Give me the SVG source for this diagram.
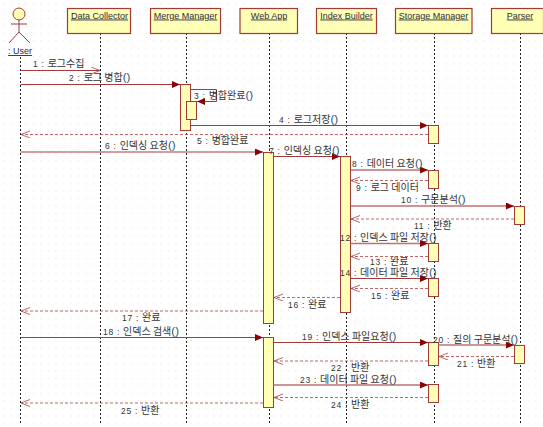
<svg xmlns="http://www.w3.org/2000/svg" width="543" height="427" viewBox="0 0 543 427">
<style>
text{font-family:"Noto Sans CJK KR","Liberation Sans",sans-serif;font-size:10px;fill:#333}
.d{font-family:"Liberation Sans",Arial,sans-serif;font-size:8.5px;letter-spacing:.7px}
.p{font-family:"Liberation Sans",Arial,sans-serif;font-size:11.5px;fill:#2f4f70}
.n{font-family:"Liberation Sans",Arial,sans-serif;font-size:9px;text-anchor:middle;text-decoration:underline;fill:#2c2c3c}
.box{fill:#ffffb5;stroke:#a23a3a;stroke-width:1.2}
.act{fill:#ffffb5;stroke:#a23a3a;stroke-width:1}
.life{stroke:#222;stroke-width:1;stroke-dasharray:2 2;fill:none}
.m{stroke:#a23a3a;stroke-width:1;fill:none;marker-end:url(#solid)}
.t{stroke:#c07070;stroke-width:1.5}
.r{stroke:#b04040;stroke-width:.8;stroke-dasharray:3 2;fill:none;marker-end:url(#open)}
</style>
<defs>
<pattern id="dots" width="7.5" height="7.5" patternUnits="userSpaceOnUse"><rect x="3" y="3" width="1" height="1" fill="#e2e2e2"/></pattern>
<marker id="solid" markerUnits="userSpaceOnUse" markerWidth="9" markerHeight="8" refX="8" refY="3.5" orient="auto"><path d="M0 0L8 3.5L0 7Z" fill="#8b0000"/></marker>
<marker id="open" markerUnits="userSpaceOnUse" markerWidth="10" markerHeight="8" refX="9" refY="3.5" orient="auto"><path d="M0 0L9 3.5L0 7" fill="none" stroke="#b04040" stroke-width=".8"/></marker>
</defs>
<rect width="543" height="427" fill="#fff"/>
<rect width="543" height="427" fill="url(#dots)"/>
<g id="lifelines">
<path class="life" d="M20.5 57V424M100.5 33V424M186.5 33V424M269.5 33V424M346.5 33V424M434.5 33V424M520.5 33V424"/>
</g>
<g id="user">
<circle cx="19" cy="14" r="6" fill="#ffffb5" stroke="#a23a3a"/>
<path d="M19 20V32M11 24H27M19 32L9 43M19 32L30 43" fill="none" stroke="#a23a3a"/>
<text class="n" x="20" y="54">: User</text>
</g>
<g id="data-collector"><rect class="box" x="67.5" y="8.5" width="63" height="25"/><text class="n" x="99.5" y="18.5">Data Collector</text></g>
<g id="merge-manager"><rect class="box" x="150.5" y="8.5" width="70" height="25"/><text class="n" x="185.5" y="18.5">Merge Manager</text></g>
<g id="web-app"><rect class="box" x="240" y="8.5" width="57.5" height="25"/><text class="n" x="269" y="18.5">Web App</text></g>
<g id="index-builder"><rect class="box" x="316.5" y="8.5" width="60" height="25"/><text class="n" x="346.5" y="18.5">Index Builder</text></g>
<g id="storage-manager"><rect class="box" x="395.5" y="8.5" width="76.5" height="25"/><text class="n" x="433.5" y="18.5">Storage Manager</text></g>
<g id="parser"><rect class="box" x="491.5" y="8.5" width="52" height="25"/><text class="n" x="520" y="18.5">Parser</text></g>
<g id="activations">
<rect class="act" x="180.5" y="84.5" width="10" height="46"/>
<rect class="act" x="186.5" y="101.5" width="10" height="18"/>
<rect class="act" x="263.5" y="152.5" width="10" height="171"/>
<rect class="act" x="263.5" y="337.5" width="10" height="70"/>
<rect class="act" x="340.5" y="156.5" width="10" height="156"/>
<rect class="act" x="428.5" y="125.5" width="10" height="18"/>
<rect class="act" x="428.5" y="170.5" width="10" height="18"/>
<rect class="act" x="428.5" y="243.5" width="10" height="18"/>
<rect class="act" x="428.5" y="278.5" width="10" height="18"/>
<rect class="act" x="428.5" y="342.5" width="10" height="23"/>
<rect class="act" x="428.5" y="384.5" width="10" height="18"/>
<rect class="act" x="514.5" y="206.5" width="10" height="18"/>
<rect class="act" x="514.5" y="345.5" width="10" height="18"/>
</g>
<g id="connectors">
<path d="M20.5 70.5H100" fill="none" stroke="#a23a3a" marker-end="url(#open)"/>
<path class="m" d="M20.5 84.5H180"/>
<path class="m" d="M190.5 89.5H216.5V101.5H197"/>
<path class="m" d="M190.5 125.5H428"/>
<path class="r" d="M428 134.5H21"/>
<path class="m" d="M20.5 152H263"/>
<path class="m" d="M273.5 156.5H340"/>
<path class="m t" d="M351 170H428"/>
<path class="r" d="M428 180.5H351"/>
<path class="m t" d="M351 206H514"/>
<path class="r" d="M514 219H351"/>
<path class="m t" d="M351 243.5H428"/>
<path class="r" d="M428 256.5H351"/>
<path class="m" d="M351 278.5H428"/>
<path class="r" d="M428 288.5H351"/>
<path class="r" d="M340 297.5H274"/>
<path class="r" d="M263 311H21"/>
<path class="m" d="M20.5 337.5H263"/>
<path class="m" d="M273.5 342.5H428"/>
<path class="m t" d="M438.5 345H514"/>
<path class="r" d="M514 356.5H439"/>
<path class="r" d="M428 361H274"/>
<path class="m t" d="M273.5 385H428"/>
<path class="r" d="M428 397.5H274"/>
<path class="r" d="M263 403H21"/>
</g>
<g id="labels">
<text x="33" y="67"><tspan class="d">1 : </tspan>로그수집</text>
<text x="69" y="81"><tspan class="d">2 : </tspan>로그 병합<tspan class="p">()</tspan></text>
<text x="194" y="99"><tspan class="d">3 : </tspan>병합완료<tspan class="p">()</tspan></text>
<text x="279" y="123"><tspan class="d">4 : </tspan>로그저장<tspan class="p">()</tspan></text>
<text x="197" y="144"><tspan class="d">5 : </tspan>병합완료</text>
<text x="105" y="149"><tspan class="d">6 : </tspan>인덱싱 요청<tspan class="p">()</tspan></text>
<text x="269" y="154"><tspan class="d">7 : </tspan>인덱싱 요청<tspan class="p">()</tspan></text>
<text x="352" y="167"><tspan class="d">8 : </tspan>데이터 요청<tspan class="p">()</tspan></text>
<text x="356" y="191"><tspan class="d">9 : </tspan>로그 데이터</text>
<text x="401" y="203"><tspan class="d">10 : </tspan>구문분석<tspan class="p">()</tspan></text>
<text x="414" y="229"><tspan class="d">11 : </tspan>반환</text>
<text x="340" y="241"><tspan class="d">12 : </tspan>인덱스 파일 저장<tspan class="p">()</tspan></text>
<text x="370" y="265"><tspan class="d">13 : </tspan>완료</text>
<text x="340" y="276"><tspan class="d">14 : </tspan>데이터 파일 저장<tspan class="p">()</tspan></text>
<text x="371" y="299"><tspan class="d">15 : </tspan>완료</text>
<text x="288" y="308"><tspan class="d">16 : </tspan>완료</text>
<text x="122" y="321"><tspan class="d">17 : </tspan>완료</text>
<text x="103" y="335"><tspan class="d">18 : </tspan>인덱스 검색<tspan class="p">()</tspan></text>
<text x="302" y="340"><tspan class="d">19 : </tspan>인덱스 파일요청<tspan class="p">()</tspan></text>
<text x="433" y="343"><tspan class="d">20 : </tspan>질의 구문분석<tspan class="p">()</tspan></text>
<text x="457" y="367"><tspan class="d">21 : </tspan>반환</text>
<text x="331" y="371"><tspan class="d">22 : </tspan>반환</text>
<text x="300" y="383"><tspan class="d">23 : </tspan>데이터 파일 요청<tspan class="p">()</tspan></text>
<text x="331" y="408"><tspan class="d">24 : </tspan>반환</text>
<text x="121" y="414"><tspan class="d">25 : </tspan>반환</text>
</g>
</svg>
